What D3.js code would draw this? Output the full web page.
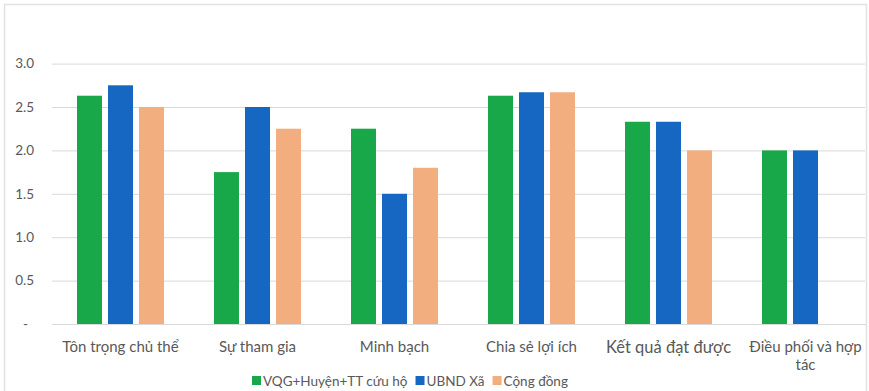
<!DOCTYPE html>
<html>
<head>
<meta charset="utf-8">
<script src="https://cdn.jsdelivr.net/npm/d3@7/dist/d3.min.js"></script>
<style>
  html, body { margin: 0; padding: 0; background: #fff; }
  svg { display: block; font-family: Lato, "Noto Sans", sans-serif; }
</style>
</head>
<body>
<svg id="chart" width="869" height="391"></svg>
<script>
// Criteria assessed
const categories = ["Tôn trọng chủ thể", "Sự tham gia", "Minh bạch", "Chia sẻ lợi ích", "Kết quả đạt được", "Điều phối và hợp tác"];
// Scores by stakeholder group
const seriesNames = ["VQG+Huyện+TT cứu hộ", "UBND Xã", "Cộng đồng"];
const vqgValues = [2.63, 1.75, 2.25, 2.63, 2.33, 2.0];
const ubndValues = [2.75, 2.5, 1.5, 2.67, 2.33, 2.0];
const congDongValues = [2.5, 2.25, 1.8, 2.67, 2.0, 0];
const yTicks = [0, 0.5, 1.0, 1.5, 2.0, 2.5, 3.0];
const yTickLabels = ["-", "0.5", "1.0", "1.5", "2.0", "2.5", "3.0"];

const colors = ["#18a84a", "#1567c2", "#f3ae80"];
const series = [vqgValues, ubndValues, congDongValues];

const svg = d3.select("#chart");

// outer frame
svg.append("rect")
  .attr("x", 4.5).attr("y", 4.5)
  .attr("width", 862).attr("height", 400)
  .attr("fill", "none").attr("stroke", "#e2e2e2").attr("stroke-width", 1.5);

const x0 = d3.scaleBand().domain(categories).range([52, 874]);
const x1 = d3.scaleBand().domain(d3.range(3)).range([0, x0.bandwidth()])
  .paddingInner(0.194).paddingOuter(0.806);
const y = d3.scaleLinear().domain([0, 3]).range([324, 63.6]);

// gridlines
const grid = svg.append("g")
  .attr("transform", "translate(52,0)")
  .call(d3.axisLeft(y).tickValues(yTicks.slice(1)).tickSize(-813).tickFormat(""));
grid.select(".domain").remove();
grid.selectAll("line").attr("stroke", "#d9d9d9").attr("stroke-width", 1);

// y-axis labels
const yAxis = svg.append("g")
  .attr("transform", "translate(34,0)")
  .call(d3.axisLeft(y).tickValues(yTicks).tickSize(0).tickPadding(0)
    .tickFormat((d, i) => yTickLabels[i]));
yAxis.select(".domain").remove();
yAxis.selectAll("text")
  .attr("fill", "#595959")
  .style("font-size", "13.5px")
  .style("font-family", "Lato, 'Noto Sans', sans-serif");
yAxis.selectAll(".tick").filter(d => d === 0).select("text").attr("dx", -6);

// bars
const groups = svg.append("g").selectAll("g")
  .data(categories)
  .join("g")
  .attr("transform", d => `translate(${x0(d)},0)`);

groups.selectAll("rect")
  .data((d, ci) => series.map((s, si) => ({ si, v: s[ci] })))
  .join("rect")
  .attr("x", d => x1(d.si))
  .attr("width", x1.bandwidth())
  .attr("y", d => y(d.v))
  .attr("height", d => y(0) - y(d.v))
  .attr("fill", d => colors[d.si]);

// baseline
svg.append("line")
  .attr("x1", 52).attr("x2", 866)
  .attr("y1", y(0) + 0.5).attr("y2", y(0) + 0.5)
  .attr("stroke", "#d9d9d9").attr("stroke-width", 1);

// category labels
const xAxis = svg.append("g")
  .attr("transform", `translate(0,${y(0)})`)
  .call(d3.axisBottom(x0).tickSize(0).tickPadding(17));
xAxis.select(".domain").remove();
xAxis.selectAll("text")
  .attr("fill", "#595959")
  .style("font-size", d => d === "Kết quả đạt được" ? "16.5px" : "15px")
  .style("font-family", "Lato, 'Noto Sans', sans-serif")
  .each(function () { wrap(d3.select(this), 126); });

function wrap(text, width) {
  const words = text.text().split(/\s+/);
  const yPos = text.attr("y"), dy = parseFloat(text.attr("dy")) || 0;
  text.text(null);
  let line = [], lineNo = 0;
  let tspan = text.append("tspan").attr("x", 0).attr("y", yPos).attr("dy", dy + "em");
  for (const w of words) {
    line.push(w);
    tspan.text(line.join(" "));
    if (tspan.node().getComputedTextLength() > width && line.length > 1) {
      line.pop();
      tspan.text(line.join(" "));
      line = [w];
      tspan = text.append("tspan").attr("x", 0).attr("y", yPos)
        .attr("dy", (++lineNo * 1.2 + dy) + "em").text(w);
    }
  }
}

// legend
const legend = svg.append("g").attr("transform", "translate(252,381)");
let lx = 0;
seriesNames.forEach((name, i) => {
  const g = legend.append("g").attr("transform", `translate(${lx},0)`);
  g.append("rect").attr("x", 0).attr("y", -5).attr("width", 9).attr("height", 9).attr("fill", colors[i]);
  const t = g.append("text").attr("x", 11).attr("y", 0).attr("dy", "0.35em")
    .attr("fill", "#595959").style("font-size", "13.5px").text(name);
  lx += 11 + t.node().getComputedTextLength() + 8;
});
</script>
</body>
</html>
